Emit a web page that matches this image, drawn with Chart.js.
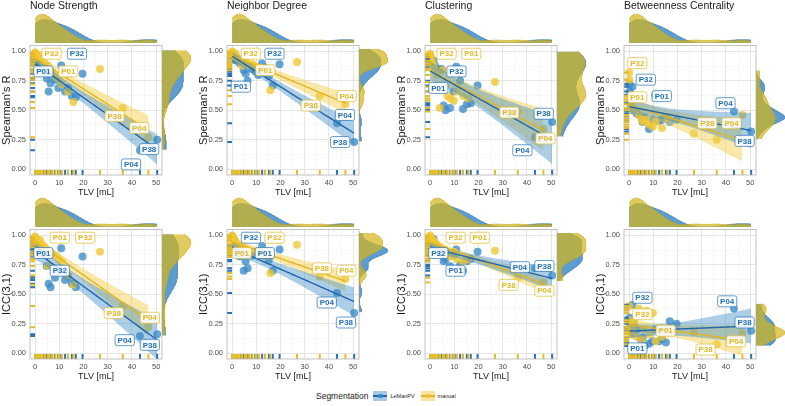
<!DOCTYPE html>
<html>
<head>
<meta charset="utf-8">
<title>Agreement vs TLV</title>
<script src="https://cdn.jsdelivr.net/npm/chart.js@4.4.1/dist/chart.umd.min.js"></script>
<style>
  html, body { margin: 0; padding: 0; background: #fff; }
  body { position: relative; width: 785px; height: 406px; overflow: hidden; font-family: "Liberation Sans", Arial, sans-serif; }
  canvas { position: absolute; }
  #legend { position: absolute; left: 316px; top: 390px; height: 12px; display: flex; align-items: center; color: #1a1a1a; }
  #legend .lg-title { font-size: 8.5px; margin-right: 5px; }
  #legend .lg-lab { font-size: 5.5px; margin: 0 6px 0 3px; }
  .key { position: relative; width: 14px; height: 10px; display: inline-block; }
  .key i { position: absolute; left: 0; right: 0; top: 4px; height: 1.5px; }
  .key b { position: absolute; left: 5px; top: 2.5px; width: 4.5px; height: 4.5px; border-radius: 50%; }
</style>
</head>
<body>
<div id="legend">
  <span class="lg-title">Segmentation</span>
  <span class="key" style="background:rgba(58,138,198,0.45)"><i style="background:#2166ac"></i><b style="background:#3a8ac6"></b></span><span class="lg-lab">LeManPV</span>
  <span class="key" style="background:rgba(240,200,60,0.5)"><i style="background:#e2b51c"></i><b style="background:#efc232"></b></span><span class="lg-lab">manual</span>
</div>
<script>
// total lesion volume per subject (mL), same subject order in every array below
const tlvAuto   = [0.1, 0.2, 0.4, 0.8, 1.4, 2.0, 3.2, 4.8, 5.6, 6.4, 8.2, 9.6, 10.8, 12.4, 13.6, 15.2, 16.8, 19.6, 50.4, 43.3];
const tlvManual = [0.0, 0.1, 0.3, 0.6, 1.0, 1.4, 2.0, 3.0, 4.0, 5.2, 6.0, 7.2, 8.4, 9.8, 11.0, 13.6, 15.8, 26.8, 36.2, 46.8];

// Spearman's R
const nsRAuto   = [0.97, 0.95, 0.92, 0.90, 0.93, 0.88, 0.84, 0.77, 0.66, 0.73, 0.76, 0.69, 0.88, 0.66, 0.69, 0.62, 0.61, 0.81, 0.25, 0.16];
const nsRManual = [0.99, 0.98, 0.97, 0.96, 0.95, 0.94, 0.97, 0.92, 0.90, 0.88, 0.84, 0.82, 0.78, 0.76, 0.72, 0.66, 0.57, 0.85, 0.52, 0.27];
const ndRAuto   = [0.98, 0.97, 0.95, 0.93, 0.96, 0.92, 0.90, 0.84, 0.81, 0.75, 0.85, 0.83, 0.80, 0.90, 0.86, 0.79, 0.71, 0.89, 0.23, 0.39];
const ndRManual = [1.00, 0.99, 0.98, 0.97, 0.96, 0.98, 0.95, 0.93, 0.88, 0.92, 0.90, 0.88, 0.89, 0.87, 0.86, 0.84, 0.67, 0.91, 0.62, 0.55];
const clRAuto   = [0.95, 0.93, 0.94, 0.90, 0.92, 0.88, 0.85, 0.85, 0.54, 0.50, 0.52, 0.66, 0.87, 0.75, 0.51, 0.55, 0.56, 0.71, 0.40, 0.27];
const clRManual = [0.98, 0.97, 0.95, 0.92, 0.90, 0.88, 0.85, 0.80, 0.52, 0.84, 0.70, 0.62, 0.60, 0.58, 0.66, 0.62, 0.60, 0.74, 0.49, 0.34];
const bcRAuto   = [0.72, 0.66, 0.56, 0.52, 0.70, 0.50, 0.47, 0.45, 0.40, 0.44, 0.34, 0.42, 0.63, 0.41, 0.42, 0.44, 0.40, 0.42, 0.32, 0.49];
const bcRManual = [0.82, 0.76, 0.62, 0.58, 0.55, 0.52, 0.60, 0.50, 0.46, 0.42, 0.40, 0.42, 0.38, 0.36, 0.40, 0.35, 0.44, 0.30, 0.25, 0.46];

// ICC(3,1)
const nsIAuto   = [0.96, 0.94, 0.92, 0.90, 0.88, 0.86, 0.84, 0.74, 0.59, 0.56, 0.64, 0.70, 0.89, 0.62, 0.65, 0.59, 0.56, 0.82, 0.16, 0.145];
const nsIManual = [0.99, 0.98, 0.97, 0.96, 0.95, 0.94, 0.96, 0.92, 0.90, 0.74, 0.86, 0.84, 0.83, 0.80, 0.78, 0.66, 0.58, 0.86, 0.40, 0.22];
const ndIAuto   = [0.99, 0.90, 0.88, 0.86, 0.85, 0.84, 0.82, 0.70, 0.78, 0.72, 0.83, 0.86, 0.85, 0.91, 0.84, 0.79, 0.70, 0.88, 0.34, 0.51];
const ndIManual = [1.00, 0.99, 0.98, 0.97, 0.96, 0.95, 0.93, 0.92, 0.90, 0.89, 0.88, 0.87, 0.86, 0.85, 0.84, 0.82, 0.68, 0.92, 0.65, 0.63];
const clIAuto   = [0.97, 0.96, 0.95, 0.93, 0.97, 0.92, 0.90, 0.85, 0.78, 0.80, 0.74, 0.83, 0.88, 0.75, 0.70, 0.78, 0.80, 0.86, 0.66, 0.72];
const clIManual = [1.00, 0.99, 0.98, 0.97, 0.96, 0.95, 0.94, 0.92, 0.90, 0.85, 0.88, 0.84, 0.82, 0.86, 0.80, 0.78, 0.80, 0.87, 0.64, 0.60];
const bcIAuto   = [0.28, 0.30, 0.22, 0.18, 0.41, 0.25, 0.20, 0.12, 0.13, 0.06, 0.08, 0.10, 0.20, 0.10, 0.12, 0.09, 0.27, 0.25, 0.19, 0.38];
const bcIManual = [0.40, 0.28, 0.22, 0.18, 0.16, 0.20, 0.26, 0.14, 0.38, 0.12, 0.20, 0.36, 0.16, 0.34, 0.10, 0.14, 0.18, 0.18, 0.075, 0.17];

// subject labels: [text, segmentation (a = LeManPV, m = manual), TLV, value] where the label box sits
const tagsNsR = [["P32","m",6.8,0.98],["P32","a",17.3,0.98],["P01","a",3.4,0.83],["P01","m",13.7,0.83],["P38","m",32.8,0.45],["P04","m",43,0.35],["P38","a",47.1,0.17],["P04","a",39.6,0.04]];
const tagsNdR = [["P32","m",7.7,0.98],["P32","a",17.5,0.98],["P01","m",13.7,0.84],["P01","a",3.6,0.70],["P04","m",47.3,0.62],["P38","m",32.5,0.54],["P04","a",46.6,0.46],["P38","a",44.6,0.23]];
const tagsClR = [["P32","m",6.8,0.98],["P01","m",17,0.98],["P32","a",10.9,0.83],["P01","a",3.4,0.69],["P38","m",32.7,0.48],["P38","a",46.9,0.47],["P04","m",47.6,0.26],["P04","a",38.1,0.16]];
const tagsBcR = [["P32","m",3.4,0.90],["P32","a",6.9,0.76],["P01","m",3.4,0.61],["P01","a",13.5,0.62],["P04","a",39.8,0.56],["P38","m",32.3,0.39],["P04","m",42.3,0.39],["P38","a",47.7,0.24]];
const tagsNsI = [["P01","m",10.2,0.98],["P32","m",20.7,0.98],["P01","a",3.4,0.85],["P32","a",10.2,0.70],["P38","m",32.5,0.34],["P04","m",47.4,0.30],["P04","a",37,0.11],["P38","a",47.4,0.07]];
const tagsNdI = [["P32","a",7.8,0.98],["P32","m",17.5,0.98],["P01","m",4,0.85],["P01","a",13.5,0.85],["P38","m",37.1,0.72],["P04","m",47.2,0.70],["P04","a",39.1,0.43],["P38","a",47,0.26]];
const tagsClI = [["P32","m",10.5,0.98],["P01","m",20.5,0.98],["P32","a",3.4,0.85],["P01","a",10.5,0.70],["P04","a",37.1,0.73],["P38","a",47.2,0.74],["P38","m",32.4,0.58],["P04","m",47.2,0.53]];
const tagsBcI = [["P32","a",5.5,0.47],["P32","m",5.5,0.33],["P01","m",15.1,0.19],["P04","a",40.5,0.44],["P38","a",47.7,0.26],["P04","m",44.2,0.10],["P38","m",31.6,0.03],["P01","a",3.4,0.04]];

const xTicks = [0, 10, 20, 30, 40, 50];
const yTicks = [0, 0.25, 0.5, 0.75, 1];
const xGrid = [0, 5, 10, 15, 20, 25, 30, 35, 40, 45, 50];
const yGrid = [0, 0.125, 0.25, 0.375, 0.5, 0.625, 0.75, 0.875, 1];

const panels = [
  { title: "Node Strength",          yTitle: "Spearman's R", auto: nsRAuto, manual: nsRManual, tags: tagsNsR, col: 0, row: 0 },
  { title: "Neighbor Degree",        yTitle: "Spearman's R", auto: ndRAuto, manual: ndRManual, tags: tagsNdR, col: 1, row: 0 },
  { title: "Clustering",             yTitle: "Spearman's R", auto: clRAuto, manual: clRManual, tags: tagsClR, col: 2, row: 0 },
  { title: "Betweenness Centrality", yTitle: "Spearman's R", auto: bcRAuto, manual: bcRManual, tags: tagsBcR, col: 3, row: 0 },
  { title: "",                       yTitle: "ICC(3,1)",     auto: nsIAuto, manual: nsIManual, tags: tagsNsI, col: 0, row: 1 },
  { title: "",                       yTitle: "ICC(3,1)",     auto: ndIAuto, manual: ndIManual, tags: tagsNdI, col: 1, row: 1 },
  { title: "",                       yTitle: "ICC(3,1)",     auto: clIAuto, manual: clIManual, tags: tagsClI, col: 2, row: 1 },
  { title: "",                       yTitle: "ICC(3,1)",     auto: bcIAuto, manual: bcIManual, tags: tagsBcI, col: 3, row: 1 }
];

// layout
const colLeft = [30, 227, 425, 624];
const rowTop = [43, 227];
const plotW = 132, plotH = 132;
const AXW = 30, AXH = 23, PAD = 6, MARG = 30;
const xMin = -2.1, xMax = 52.4, yMin = -0.05, yMax = 1.05;

const C = {
  a: { pt: "rgba(58,138,198,0.78)", line: "#2166ac", band: "rgba(58,138,198,0.42)", rug: "#2a72b3",
       den: "rgba(62,140,200,0.85)", denLine: "#2b6fa8", tag: "#2471b5" },
  m: { pt: "rgba(240,198,50,0.78)", line: "#e2b51c", band: "rgba(242,204,64,0.45)", rug: "#e8bd1e",
       den: "rgba(212,182,30,0.72)", denLine: "#c9a514", tag: "#e3b926" }
};

Chart.defaults.font.family = '"Liberation Sans", Arial, sans-serif';
Chart.defaults.color = "#4d4d4d";

const avg = v => v.reduce((s, x) => s + x, 0) / v.length;

function fitBand(xs, ys, steps) {
  const n = xs.length, mx = avg(xs), my = avg(ys);
  let sxx = 0, sxy = 0, sse = 0;
  xs.forEach((x, i) => { sxx += (x - mx) ** 2; sxy += (x - mx) * (ys[i] - my); });
  const b = sxy / sxx, a = my - b * mx;
  xs.forEach((x, i) => { sse += (ys[i] - a - b * x) ** 2; });
  const s = Math.sqrt(sse / (n - 2)), t = 2.101;
  const lo = Math.min(...xs), hi = Math.max(...xs);
  const fit = [], up = [], dn = [];
  for (let k = 0; k <= steps; k++) {
    const x = lo + (hi - lo) * k / steps;
    const f = a + b * x;
    const se = s * Math.sqrt(1 / n + (x - mx) ** 2 / sxx);
    fit.push({ x, y: f }); up.push({ x, y: f + t * se }); dn.push({ x, y: f - t * se });
  }
  return { fit, up, dn };
}

function bwNrd0(v) {
  const n = v.length, m = avg(v);
  const sd = Math.sqrt(v.reduce((s, x) => s + (x - m) ** 2, 0) / (n - 1));
  const s = [...v].sort((p, q) => p - q);
  const q = p => { const h = (n - 1) * p, i = Math.floor(h); return s[i] + (h - i) * (s[Math.min(i + 1, n - 1)] - s[i]); };
  let lo = Math.min(sd, (q(0.75) - q(0.25)) / 1.34);
  if (!(lo > 0)) lo = sd || 1;
  return 0.9 * lo * Math.pow(n, -0.2);
}

function kde(v, lo, hi, key) {
  const bw = bwNrd0(v), out = [], steps = 160;
  for (let k = 0; k <= steps; k++) {
    const x = lo + (hi - lo) * k / steps;
    let d = 0;
    v.forEach(t => { const z = (x - t) / bw; d += Math.exp(-0.5 * z * z); });
    d /= v.length * bw * Math.sqrt(2 * Math.PI);
    out.push(key === "x" ? { x, y: d } : { x: d, y: x });
  }
  return out;
}

function addCanvas(left, top, w, h) {
  const c = document.createElement("canvas");
  c.width = w; c.height = h;
  c.style.left = left + "px"; c.style.top = top + "px";
  c.style.width = w + "px"; c.style.height = h + "px";
  document.body.appendChild(c);
  return c;
}

function roundRect(ctx, x, y, w, h, r) {
  ctx.beginPath();
  ctx.moveTo(x + r, y);
  ctx.lineTo(x + w - r, y); ctx.quadraticCurveTo(x + w, y, x + w, y + r);
  ctx.lineTo(x + w, y + h - r); ctx.quadraticCurveTo(x + w, y + h, x + w - r, y + h);
  ctx.lineTo(x + r, y + h); ctx.quadraticCurveTo(x, y + h, x, y + h - r);
  ctx.lineTo(x, y + r); ctx.quadraticCurveTo(x, y, x + r, y);
  ctx.closePath();
}

// panel frame, rugs and subject labels
const panelExtras = {
  id: "panelExtras",
  afterDatasetsDraw(chart, args, opts) {
    const { ctx, chartArea: ca, scales: { x, y } } = chart;
    ctx.save();
    ctx.lineWidth = 2;
    [["a", tlvAuto, opts.auto], ["m", tlvManual, opts.manual]].forEach(([g, xs, ys]) => {
      ctx.strokeStyle = C[g].rug;
      ctx.beginPath();
      xs.forEach(v => { const px = x.getPixelForValue(v); ctx.moveTo(px, ca.bottom); ctx.lineTo(px, ca.bottom - 5); });
      ys.forEach(v => { const py = y.getPixelForValue(v); ctx.moveTo(ca.left, py); ctx.lineTo(ca.left + 5, py); });
      ctx.stroke();
    });
    ctx.strokeStyle = "#b3b3b3"; ctx.lineWidth = 0.8;
    ctx.strokeRect(ca.left, ca.top, ca.right - ca.left, ca.bottom - ca.top);

    ctx.font = 'bold 8px "Liberation Sans", Arial, sans-serif';
    ctx.textAlign = "center"; ctx.textBaseline = "middle";
    opts.tags.forEach(([txt, g, tx, ty]) => {
      const px = x.getPixelForValue(tx), py = y.getPixelForValue(ty);
      const w = ctx.measureText(txt).width + 5, h = 11;
      roundRect(ctx, px - w / 2, py - h / 2, w, h, 2);
      ctx.fillStyle = "rgba(255,255,255,0.88)"; ctx.fill();
      ctx.strokeStyle = C[g].tag; ctx.lineWidth = 0.7; ctx.stroke();
      ctx.fillStyle = C[g].tag;
      ctx.fillText(txt, px, py + 0.5);
    });
    ctx.restore();
  }
};

const gridColor = (ctx, minorTest) => minorTest(ctx.tick.value) ? "#efefef" : "#dedede";
const isMinorX = v => Math.round(v) % 10 !== 0;
const isMinorY = v => Math.abs(v * 4 - Math.round(v * 4)) > 1e-6;

panels.forEach(p => {
  const L = colLeft[p.col], T = rowTop[p.row];

  const ptsA = tlvAuto.map((x, i) => ({ x, y: p.auto[i] }));
  const ptsM = tlvManual.map((x, i) => ({ x, y: p.manual[i] }));
  const fa = fitBand(tlvAuto, p.auto, 60), fm = fitBand(tlvManual, p.manual, 60);
  const noLine = { pointRadius: 0, borderColor: "rgba(0,0,0,0)", borderWidth: 0 };

  const main = addCanvas(L - AXW, T - PAD, AXW + plotW + PAD, PAD + plotH + AXH);
  new Chart(main, {
    type: "scatter",
    data: {
      datasets: [
        { type: "line", data: fa.fit, borderColor: C.a.line, borderWidth: 1.4, pointRadius: 0, fill: false, order: 0 },
        { type: "line", data: fm.fit, borderColor: C.m.line, borderWidth: 1.4, pointRadius: 0, fill: false, order: 1 },
        Object.assign({ type: "line", data: fa.up, backgroundColor: C.a.band, fill: "+1", order: 2 }, noLine),
        Object.assign({ type: "line", data: fa.dn, fill: false, order: 3 }, noLine),
        Object.assign({ type: "line", data: fm.up, backgroundColor: C.m.band, fill: "+1", order: 4 }, noLine),
        Object.assign({ type: "line", data: fm.dn, fill: false, order: 5 }, noLine),
        { data: ptsM, backgroundColor: C.m.pt, borderWidth: 0, pointRadius: 4, order: 6 },
        { data: ptsA, backgroundColor: C.a.pt, borderWidth: 0, pointRadius: 4, order: 7 }
      ]
    },
    options: {
      responsive: false, animation: false, events: [],
      layout: { padding: { top: PAD, right: PAD, left: 0, bottom: 0 } },
      plugins: { legend: { display: false }, tooltip: { enabled: false },
                 panelExtras: { auto: p.auto, manual: p.manual, tags: p.tags } },
      scales: {
        x: {
          type: "linear", min: xMin, max: xMax,
          afterBuildTicks: s => { s.ticks = xGrid.map(v => ({ value: v })); },
          afterFit: s => { s.height = AXH; },
          ticks: { autoSkip: false, maxRotation: 0, padding: 3, font: { size: 7.5 }, color: "#4d4d4d",
                   callback: v => xTicks.includes(v) ? String(v) : "" },
          grid: { drawTicks: false, color: c => gridColor(c, isMinorX), lineWidth: c => isMinorX(c.tick.value) ? 0.5 : 0.8 },
          border: { display: false },
          title: { display: true, text: "TLV [mL]", padding: 0, font: { size: 9 }, color: "#1a1a1a" }
        },
        y: {
          type: "linear", min: yMin, max: yMax,
          afterBuildTicks: s => { s.ticks = yGrid.map(v => ({ value: v })); },
          afterFit: s => { s.width = AXW; },
          ticks: { autoSkip: false, padding: 4, font: { size: 7.5 }, color: "#4d4d4d",
                   callback: v => yTicks.includes(v) ? v.toFixed(2) : "" },
          grid: { drawTicks: false, color: c => gridColor(c, isMinorY), lineWidth: c => isMinorY(c.tick.value) ? 0.5 : 0.8 },
          border: { display: false },
          title: { display: true, text: p.yTitle, padding: 0, font: { size: 11 }, color: "#1a1a1a" }
        }
      }
    },
    plugins: [panelExtras]
  });

  // marginal densities
  const allX = tlvAuto.concat(tlvManual), allY = p.auto.concat(p.manual);
  const dxA = kde(tlvAuto, Math.min(...allX), Math.max(...allX), "x");
  const dxM = kde(tlvManual, Math.min(...allX), Math.max(...allX), "x");
  const dyA = kde(p.auto, Math.min(...allY), Math.max(...allY), "y");
  const dyM = kde(p.manual, Math.min(...allY), Math.max(...allY), "y");
  const topPeak = Math.max(...dxA.map(d => d.y), ...dxM.map(d => d.y));
  const sidePeak = Math.max(...dyA.map(d => d.x), ...dyM.map(d => d.x));
  const denSet = (data, g) => ({ data, fill: "origin", backgroundColor: C[g].den, borderColor: C[g].denLine,
                                 borderWidth: 0.6, pointRadius: 0 });
  const titled = !!p.title;
  const topY = titled ? 0 : T - MARG;

  // top margin: density of TLV, with the panel title above it
  new Chart(addCanvas(L, topY, plotW + (titled ? 60 : 0), T - topY), {
    type: "line",
    data: { datasets: [denSet(dxM, "m"), denSet(dxA, "a")] },
    options: {
      responsive: false, animation: false, events: [],
      layout: { padding: { left: 0, top: 0, bottom: 0, right: titled ? 60 : 0 } },
      plugins: {
        legend: { display: false }, tooltip: { enabled: false },
        title: { display: titled, text: p.title, align: "start", color: "#1a1a1a",
                 font: { size: 10.5, weight: "normal" }, padding: { top: 0, bottom: 0.4 } }
      },
      scales: { x: { type: "linear", display: false, min: xMin, max: xMax },
                y: { type: "linear", display: false, min: 0, max: topPeak * 1.04 } }
    }
  });

  // right margin: density of the agreement value
  new Chart(addCanvas(L + plotW, T, MARG, plotH), {
    type: "line",
    data: { datasets: [denSet(dyM, "m"), denSet(dyA, "a")] },
    options: {
      responsive: false, animation: false, events: [], indexAxis: "y",
      layout: { padding: 0 },
      plugins: { legend: { display: false }, tooltip: { enabled: false } },
      scales: { x: { type: "linear", display: false, min: 0, max: sidePeak * 1.04 },
                y: { type: "linear", display: false, min: yMin, max: yMax } }
    }
  });
});
</script>
</body>
</html>
